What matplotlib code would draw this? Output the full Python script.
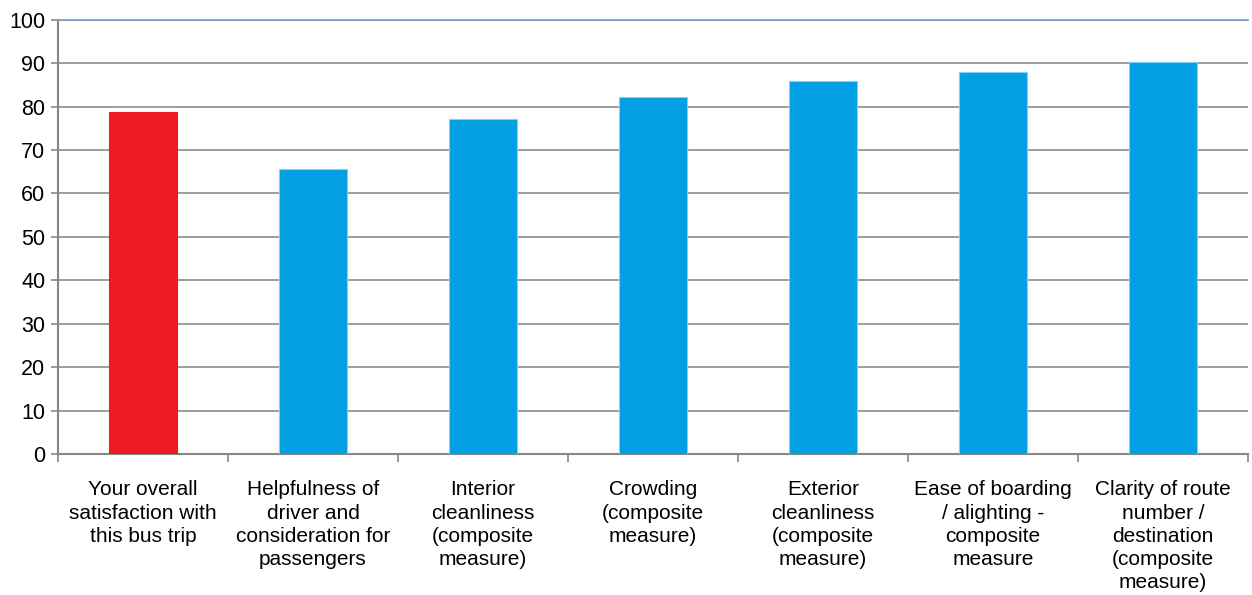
import matplotlib.pyplot as plt
import numpy as np

# Satisfaction scores per survey item
categories = [
    "Your overall\nsatisfaction with\nthis bus trip",
    "Helpfulness of\ndriver and\nconsideration for\npassengers",
    "Interior\ncleanliness\n(composite\nmeasure)",
    "Crowding\n(composite\nmeasure)",
    "Exterior\ncleanliness\n(composite\nmeasure)",
    "Ease of boarding\n/ alighting -\ncomposite\nmeasure",
    "Clarity of route\nnumber /\ndestination\n(composite\nmeasure)",
]
scores = [78.7, 65.5, 77.1, 82.3, 85.9, 88.0, 90.3]
yticks = [0, 10, 20, 30, 40, 50, 60, 70, 80, 90, 100]

plt.rcParams['font.family'] = ['Liberation Sans', 'DejaVu Sans']

fig = plt.figure(figsize=(12.52, 5.95), dpi=100)
ax = fig.add_axes([0.0463, 0.237, 0.9505, 0.730])

x = np.arange(len(categories))
colors = ['#ED1C24'] + ['#00A0E3'] * (len(categories) - 1)
edges = ['#ED1C24'] + ['#7DD3F5'] * (len(categories) - 1)
ax.bar(x, scores, width=0.405, color=colors, edgecolor=edges, linewidth=0.8, zorder=3)

ax.set_xlim(-0.5, len(categories) - 0.5)
ax.set_ylim(0, 100)
ax.set_yticks(yticks)
ax.tick_params(axis='y', labelsize=15.5, length=5, width=1.2, color='#868686', pad=4)
ax.yaxis.grid(True, color='#8c8c8c', linewidth=1.2, zorder=0)
ax.set_axisbelow(True)

# category labels centred, boundary ticks between categories
ax.set_xticks(x)
ax.set_xticklabels(categories, fontsize=15, linespacing=1.28, va='top')
ax.tick_params(axis='x', length=0, pad=19)
ax.set_xticks(np.arange(-0.5, len(categories)), minor=True)
ax.tick_params(axis='x', which='minor', length=6, width=1.2, color='#868686')

for side in ['left', 'bottom']:
    ax.spines[side].set_color('#868686')
    ax.spines[side].set_linewidth(1.5)
ax.spines['right'].set_visible(False)
ax.spines['top'].set_color('#7f9cc6')
ax.spines['top'].set_linewidth(1.2)

fig.savefig('out.png', dpi=100)
